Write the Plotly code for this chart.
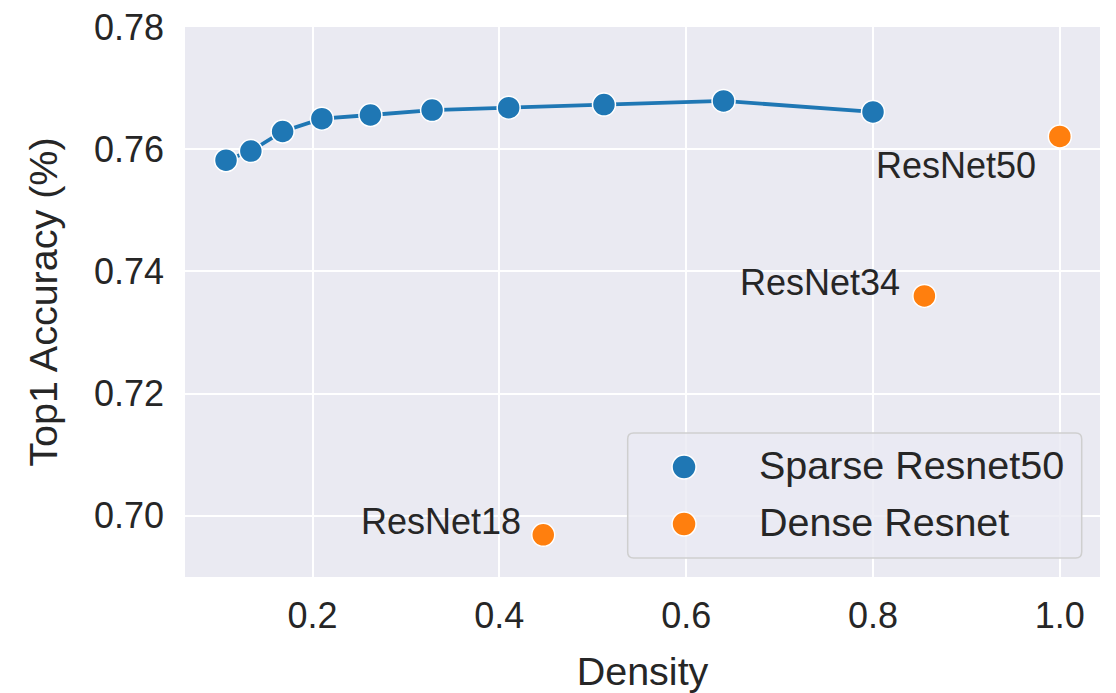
import plotly.graph_objects as go

# Sparse ResNet50: fraction of weights kept vs. top-1 accuracy
sparse_density = [0.8, 0.64, 0.512, 0.41, 0.328, 0.262, 0.21, 0.168, 0.134, 0.1074]
sparse_acc = [0.7661, 0.7679, 0.7673, 0.7668, 0.7664, 0.7656, 0.7650, 0.7629, 0.7597, 0.7582]

# Dense baselines (density relative to ResNet50 parameter count)
dense_names = ["ResNet50", "ResNet34", "ResNet18"]
dense_density = [1.0, 0.855, 0.447]
dense_acc = [0.7621, 0.7360, 0.6969]

legend_names = ["Sparse Resnet50", "Dense Resnet"]

BLUE = "#1f77b4"
ORANGE = "#ff7f0e"
TEXT = "#262626"
FONT = "Liberation Sans, Arial, sans-serif"
MARKER = dict(size=23, line=dict(color="white", width=1.5))

fig = go.Figure()

fig.add_trace(go.Scatter(
    x=sparse_density, y=sparse_acc, mode="lines+markers",
    name=legend_names[0], showlegend=False,
    line=dict(color=BLUE, width=3.8),
    marker=dict(color=BLUE, **MARKER),
))

fig.add_trace(go.Scatter(
    x=dense_density, y=dense_acc, mode="markers",
    name=legend_names[1], showlegend=False,
    marker=dict(color=ORANGE, **MARKER),
))

# Labels for the dense models, placed to the left of each point
label_offsets = {"ResNet50": (-22, -52), "ResNet34": (-22, -9), "ResNet18": (-20, -9)}
for name, xd, yd in zip(dense_names, dense_density, dense_acc):
    dx, dy = label_offsets[name]
    fig.add_annotation(
        x=xd, y=yd, text=name, showarrow=False,
        xanchor="right", yanchor="bottom", xshift=dx, yshift=dy,
        font=dict(family=FONT, size=36, color=TEXT),
    )

# Legend panel (paper coordinates) with a rounded frame
W, H = 915.0, 550.0          # plot area in pixels
bx0, bx1, by0, by1 = 0.4838, 0.980, 0.0345, 0.2618
rx, ry = 6 / W, 6 / H
frame = (
    f"M {bx0 + rx},{by0} L {bx1 - rx},{by0} Q {bx1},{by0} {bx1},{by0 + ry} "
    f"L {bx1},{by1 - ry} Q {bx1},{by1} {bx1 - rx},{by1} "
    f"L {bx0 + rx},{by1} Q {bx0},{by1} {bx0},{by1 - ry} "
    f"L {bx0},{by0 + ry} Q {bx0},{by0} {bx0 + rx},{by0} Z"
)
fig.add_shape(type="path", path=frame, xref="paper", yref="paper",
              fillcolor="rgba(234,234,242,0.8)", line=dict(color="#cfcfcf", width=1.5),
              layer="above")

legend_rows_y = [0.200, 0.0964]
for label, color, ly in zip(legend_names, [BLUE, ORANGE], legend_rows_y):
    fig.add_shape(type="circle", xref="paper", yref="paper",
                  xsizemode="pixel", ysizemode="pixel",
                  xanchor=0.5454, yanchor=ly, x0=-12, x1=12, y0=-12, y1=12,
                  fillcolor=color, line=dict(color="white", width=1.5), layer="above")
    fig.add_annotation(x=0.6251, y=ly + 0.004, xref="paper", yref="paper",
                       text=label, showarrow=False, xanchor="left", yanchor="middle",
                       font=dict(family=FONT, size=39.5, color=TEXT))

fig.update_layout(
    width=1116, height=693,
    margin=dict(l=185, r=16, t=27, b=116),
    paper_bgcolor="white",
    plot_bgcolor="#EAEAF2",
    font=dict(family=FONT, color=TEXT),
    showlegend=False,
    xaxis=dict(
        range=[0.0635, 1.043],
        tickvals=[0.2, 0.4, 0.6, 0.8, 1.0],
        ticktext=["0.2", "0.4", "0.6", "0.8", "1.0"],
        showgrid=True, gridcolor="white", gridwidth=1.5,
        zeroline=False, showline=False, ticks="",
        tickfont=dict(family=FONT, size=36, color=TEXT),
        ticklabelstandoff=14, automargin=False,
        title=dict(text="Density", font=dict(family=FONT, size=39.5, color=TEXT), standoff=22),
    ),
    yaxis=dict(
        range=[0.69, 0.78],
        tickvals=[0.70, 0.72, 0.74, 0.76, 0.78],
        ticktext=["0.70", "0.72", "0.74", "0.76", "0.78"],
        showgrid=True, gridcolor="white", gridwidth=1.5,
        zeroline=False, showline=False, ticks="",
        tickfont=dict(family=FONT, size=36, color=TEXT),
        ticklabelstandoff=20, automargin=False,
        title=dict(text="Top1 Accuracy (%)", font=dict(family=FONT, size=39.5, color=TEXT), standoff=24),
    ),
)

fig.write_html("out.html")
